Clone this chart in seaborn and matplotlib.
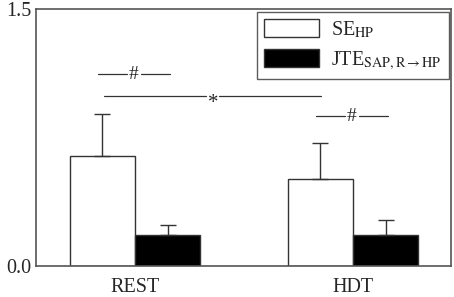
import numpy as np
import pandas as pd
import seaborn as sns
import matplotlib
matplotlib.use('Agg')
import matplotlib.pyplot as plt
from matplotlib.patches import Patch

# data
conditions = ['REST', 'HDT']
series = ['SE', 'JTE']
se_means = [0.64, 0.51]
se_err = [0.25, 0.205]
jte_means = [0.18, 0.18]
jte_err = [0.06, 0.09]
legend_labels = [r'SE$_{\mathrm{HP}}$', r'JTE$_{\mathrm{SAP,R\rightarrow HP}}$']
# significance brackets
hash_heights = [1.12, 0.875]
star_height = 0.99

sns.set_style('ticks')
plt.rcParams['font.family'] = ['Liberation Serif', 'DejaVu Serif']
plt.rcParams['mathtext.fontset'] = 'stix'

df = pd.DataFrame({
    'cond': conditions * 2,
    'series': [series[0]] * 2 + [series[1]] * 2,
    'value': se_means + jte_means,
})

fig = plt.figure(figsize=(4.54, 2.97), dpi=100)
ax = fig.add_axes([0.0793, 0.1044, 0.9141, 0.8653])

edge = '#333333'
sns.barplot(data=df, x='cond', y='value', hue='series', order=conditions,
            hue_order=series, palette=['white', 'black'], width=0.6, gap=0,
            edgecolor=edge, linewidth=1.0, errorbar=None, legend=False, ax=ax)

# upper-only error bars
bars = ax.patches
for i, (m, e) in enumerate(zip(se_means + jte_means, se_err + jte_err)):
    p = bars[i]
    cx = p.get_x() + p.get_width() / 2
    ax.errorbar(cx, m, yerr=[[0], [e]], fmt='none', ecolor=edge,
                elinewidth=1.0, capsize=5.5, capthick=1.0, zorder=1)

# significance lines
def sig_line(x0, x1, y, sym, gap=0.033, dy=0.0, fs=12):
    xm = (x0 + x1) / 2
    ax.plot([x0, xm - gap], [y, y], color=edge, lw=0.9)
    ax.plot([xm + gap, x1], [y, y], color=edge, lw=0.9)
    ax.text(xm, y + dy, sym, ha='center', va='center', fontsize=fs)

for k, h in enumerate(hash_heights):
    sig_line(k - 0.17, k + 0.16, h, '#', dy=0.0, fs=14)
c0 = bars[0].get_x() + bars[0].get_width() / 2
c1 = bars[1].get_x() + bars[1].get_width() / 2
sig_line(c0 + 0.01, c1 + 0.005, star_height, '*', gap=0.03, dy=-0.04, fs=15)

ax.set_xlim(-0.454, 1.45)
ax.set_ylim(0, 1.5)
ax.set_yticks([0.0, 1.5])
ax.set_yticklabels(['0.0', '1.5'])
ax.set_xlabel('')
ax.set_ylabel('')
ax.tick_params(axis='both', length=0, labelsize=14.5, pad=3)
ax.tick_params(axis='x', pad=9)
for s in ax.spines.values():
    s.set_visible(True)
    s.set_color('#555555')
    s.set_linewidth(1.2)

handles = [Patch(facecolor='white', edgecolor=edge, linewidth=1.0),
           Patch(facecolor='black', edgecolor=edge, linewidth=1.0)]
leg = ax.legend(handles, legend_labels, loc='upper right',
                bbox_to_anchor=(0.995, 0.988), fontsize=14.5, frameon=True,
                fancybox=False, handlelength=2.75, handleheight=1.0,
                handletextpad=0.6, borderpad=0.35, labelspacing=0.45,
                borderaxespad=0)
leg.get_frame().set_edgecolor('#333333')
leg.get_frame().set_linewidth(1.0)

fig.savefig('out.png', dpi=100)
